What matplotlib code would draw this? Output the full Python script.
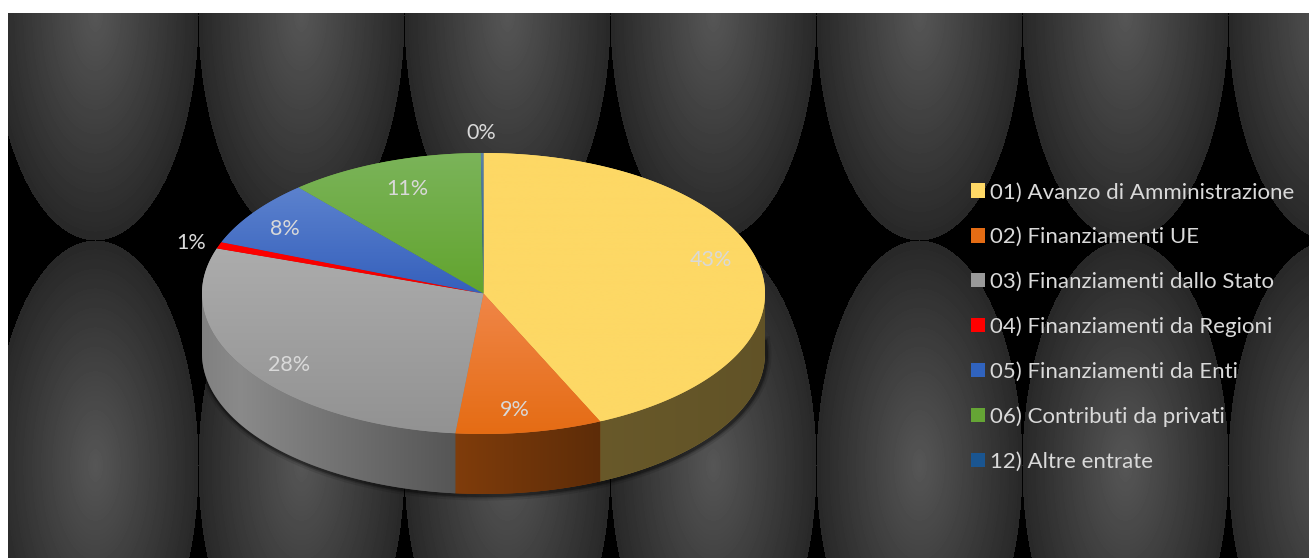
import numpy as np
import matplotlib
matplotlib.use("Agg")
import matplotlib.pyplot as plt
from matplotlib.patches import Patch, Polygon

plt.rcParams['font.family'] = ['Lato', 'DejaVu Sans']

# dati
categories = ['01) Avanzo di Amministrazione', '02) Finanziamenti UE',
              '03) Finanziamenti dallo Stato', '04) Finanziamenti da Regioni',
              '05) Finanziamenti da Enti', '06) Contributi da privati',
              '12) Altre entrate']
values = [43.2, 8.4, 28.6, 0.75, 7.65, 11.25, 0.15]
labels = ['43%', '9%', '28%', '1%', '8%', '11%', '0%']
label_x = [711, 515, 289, 191, 285, 407, 481]
label_y = [260, 410, 365, 243, 229, 189, 133]

legend_colors = ['#FFD966', '#E46C14', '#999999', '#FF0000', '#3063BE', '#65A535', '#1A5590']
top_colors = ['#FDD865', '#F08648', '#ACACAC', '#FF0000', '#5C82CE', '#7BB45A', '#5C82A8']
bottom_colors = ['#FDD865', '#E56C14', '#929292', '#F00000', '#3560BC', '#62A42E', '#1A5590']

W, H = 1309, 558
CX, CY, RX, RY, DEPTH = 483.5, 293.5, 281.5, 140.5, 60


def rgb(color):
    return np.array(matplotlib.colors.to_rgb(color))


def ellipse_points(t1, t2, dy=0.0, n=200):
    """Punti sul bordo, angoli in gradi in senso orario dall'alto."""
    t = np.radians(np.linspace(t1, t2, n))
    return np.column_stack([CX + RX * np.sin(t), CY + dy - RY * np.cos(t)])


def draw_background(ax):
    # tessere ovali grigie su fondo nero
    yy, xx = np.mgrid[13:H, 8:W]
    tile_w, tile_h = 206.0, 450.0
    dx = ((xx - 95 + tile_w / 2) % tile_w - tile_w / 2) / (tile_w / 2)
    dy = ((yy - 15 + tile_h / 2) % tile_h - tile_h / 2) / (tile_h / 2)
    r = np.sqrt(dx ** 2 + dy ** 2)
    gray = (0x56 - 0x2E * np.clip(r, 0, 1)) / 255.0
    gray[r > 1] = 0
    ax.imshow(gray, cmap='gray', vmin=0, vmax=1, extent=(8, W, H, 13),
              aspect='auto', interpolation='bilinear', zorder=0)


def draw_pie(ax):
    edges = np.concatenate([[0], np.cumsum(values)]) / sum(values) * 360

    # ombra solo sotto la torta
    outline = ellipse_points(85, 275, DEPTH)
    for lw, alpha in [(8, 0.10), (5, 0.18), (3, 0.30)]:
        ax.plot(outline[:, 0] + 1, outline[:, 1] + 1, color='black', lw=lw, alpha=alpha, zorder=1)

    # fianco: visibile solo nella meta inferiore, sfumato in orizzontale
    xs = np.linspace(CX - RX, CX + RX, 564)
    shade = np.interp(xs, [202, 240, 455, 600, 765], [0.84, 0.90, 0.56, 0.41, 0.38])
    for i, color in enumerate(legend_colors):
        t1, t2 = max(edges[i], 90), min(edges[i + 1], 270)
        if t2 <= t1:
            continue
        p = ellipse_points(t1, t2)
        pts = np.vstack([p, p[::-1] + [0, DEPTH]])
        side = Polygon(pts, closed=True, facecolor=rgb(color) * shade.mean(),
                       edgecolor='none', zorder=2)
        ax.add_patch(side)
        grad = rgb(color)[None, None, :] * shade[None, :, None]
        im = ax.imshow(grad, extent=(CX - RX, CX + RX, CY + RY + DEPTH, CY), aspect='auto',
                       interpolation='bilinear', zorder=2)
        im.set_clip_path(side)

    # faccia superiore con sfumatura verticale
    for i in range(len(values)):
        pts = np.vstack([[CX, CY], ellipse_points(edges[i], edges[i + 1])])
        c1, c2 = rgb(top_colors[i]), rgb(bottom_colors[i])
        base = Polygon(pts, closed=True, facecolor=(c1 + c2) / 2, edgecolor='none', zorder=3)
        ax.add_patch(base)
        f = np.linspace(0, 1, 256)[:, None, None]
        grad = c1[None, None, :] * (1 - f) + c2[None, None, :] * f
        y0, y1 = pts[:, 1].min(), pts[:, 1].max()
        im = ax.imshow(grad, extent=(CX - RX, CX + RX, y1, y0), aspect='auto',
                       interpolation='bilinear', zorder=4)
        im.set_clip_path(base)


fig = plt.figure(figsize=(W / 100, H / 100), dpi=100, facecolor='white')
ax = fig.add_axes([0, 0, 1, 1])
draw_background(ax)
draw_pie(ax)
ax.set_xlim(0, W)
ax.set_ylim(H, 0)
ax.axis('off')

for x, y, s in zip(label_x, label_y, labels):
    ax.text(x, y, s, color='#D9D9D9', fontsize=15.5, ha='center', va='center', zorder=6)

handles = [Patch(facecolor=c, edgecolor='none') for c in legend_colors]
ax.legend(handles, categories, loc='center left', bbox_to_anchor=(960, 327),
          bbox_transform=ax.transData, frameon=False, labelcolor='#D9D9D9',
          fontsize=16, handlelength=0.63, handleheight=0.63, handletextpad=0.225,
          labelspacing=1.11, borderpad=0, borderaxespad=0.5)

fig.savefig('out.png', dpi=100, facecolor='white')
